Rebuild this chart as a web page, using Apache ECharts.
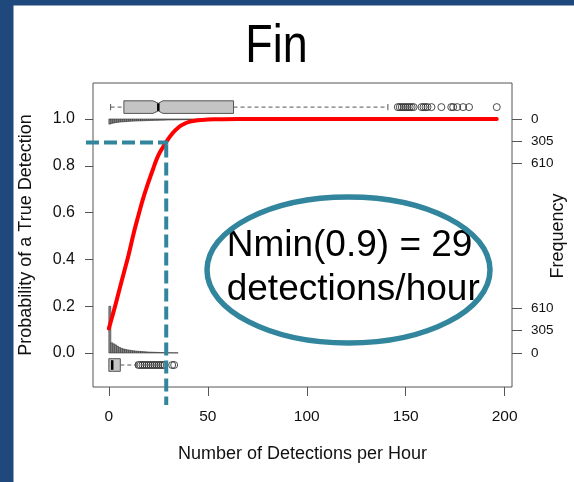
<!DOCTYPE html>
<html><head><meta charset="utf-8">
<script src="https://cdn.jsdelivr.net/npm/echarts@6/dist/echarts.min.js"></script>
<style>html,body{margin:0;padding:0;background:#fff}#c{width:574px;height:482px}</style>
</head><body><div id="c"></div>
<script>
// ---------------- data ----------------
const xTicks = [0, 50, 100, 150, 200];
const yTicks = [0, 0.2, 0.4, 0.6, 0.8, 1.0];
const freqTicks = [0, 305, 610];

// fitted probability curve
const curveX = [0, 2.5, 5, 7.5, 10, 12.5, 15, 17.5, 20, 22.5, 25, 27.5, 29, 32, 35, 38, 41, 45, 50, 55, 65, 80, 196];
const curveY = [0.105, 0.18, 0.26, 0.34, 0.42, 0.51, 0.59, 0.665, 0.73, 0.79, 0.845, 0.882, 0.902, 0.937, 0.963, 0.979, 0.989, 0.995, 0.998, 0.999, 1.0, 1.0, 1.0];

// histogram counts, bins of width 1 starting at 0
const bottomHistCounts = [640, 140, 125, 110, 90, 75, 62, 55, 48, 42, 38, 33, 30, 27, 24, 22, 20, 18, 16, 14, 12, 11, 10, 9, 8, 7, 6, 5, 5, 4, 4, 3, 3, 2, 2];
const topHistCounts = [70, 60, 55, 50, 46, 42, 40, 38, 36, 34, 32, 30, 29, 28, 27, 26, 25, 24, 23, 22, 21, 20, 19, 18, 18, 17, 16, 16, 15, 14, 14, 13, 13, 12, 12, 11, 11, 10, 10, 9, 9, 9, 8, 8, 8, 7, 7, 7, 6, 6, 6, 6, 5, 5, 5, 5, 4, 4, 4, 4];

// boxplots: [min, q1, median, q3, max], notch [lo, hi]
const topBoxStats = [0.9, 7.6, 25, 63, 141];
const topBoxNotch = [22.3, 27.3];
const topOutliers = [146, 147, 148, 149, 150, 151, 152, 153, 154, 158, 159, 160, 161, 163, 168, 173, 174, 176, 179, 182, 196];
const bottomBoxStats = [0, 0, 1.7, 5.8, 13.8];
const bottomBoxNotch = [1.7, 1.7];
const bottomOutliers = [15, 16, 17, 18, 19, 20, 21, 22, 23, 24, 25, 26, 27, 28, 32, 33];

const nminX = [29];
const nminP = [0.9];

// ---------------- layout / style ----------------
const X_MIN = -8, X_MAX = 203.7;
const Y_MIN = -0.145, Y_MAX = 1.154;
const TOP_BOX_Y = 1.051, BOTTOM_BOX_Y = -0.051;
const BOX_HALF = 6.3;
const TEAL = '#31859c';
const AX = '#555';
const FONT = "'Liberation Sans', Arial, sans-serif";

const chart = echarts.init(document.getElementById('c'), null, {renderer: 'canvas'});

function histRender(params, api) {
  const x0 = api.value(0), x1 = api.value(1), c = api.value(2);
  const p0 = api.coord([x0, 0]);
  const p1 = api.coord([x1, c]);
  return {
    type: 'rect',
    shape: {x: Math.min(p0[0], p1[0]), y: Math.min(p0[1], p1[1]),
            width: Math.abs(p1[0] - p0[0]), height: Math.abs(p1[1] - p0[1])},
    style: {fill: '#8c8c8c', stroke: '#333', lineWidth: 0.6}
  };
}

function boxRender(params, api) {
  const mn = api.value(0), q1 = api.value(1), md = api.value(2), q3 = api.value(3), mx = api.value(4);
  const n0 = api.value(5), n1 = api.value(6), yc = api.value(7);
  const c = (x) => api.coord([x, yc]);
  const cy = c(md)[1];
  const t = cy - BOX_HALF, b = cy + BOX_HALF;
  const ti = cy - BOX_HALF * 0.6, bi = cy + BOX_HALF * 0.6;
  const X = (v) => c(v)[0];
  const notched = n0 !== n1;
  const pts = [[X(q1), t], [X(n0), t], [X(md), notched ? ti : t], [X(n1), t], [X(q3), t],
               [X(q3), b], [X(n1), b], [X(md), notched ? bi : b], [X(n0), b], [X(q1), b]];
  const dash = {stroke: AX, lineWidth: 1, lineDash: [4, 3]};
  const solid = {stroke: AX, lineWidth: 1};
  const ch = [];
  if (mn < q1) {
    ch.push({type: 'line', shape: {x1: X(mn), y1: cy, x2: X(q1), y2: cy}, style: dash});
    ch.push({type: 'line', shape: {x1: X(mn), y1: cy - BOX_HALF / 2, x2: X(mn), y2: cy + BOX_HALF / 2}, style: solid});
  }
  ch.push({type: 'line', shape: {x1: X(q3), y1: cy, x2: X(mx), y2: cy}, style: dash});
  ch.push({type: 'line', shape: {x1: X(mx), y1: cy - BOX_HALF / 2, x2: X(mx), y2: cy + BOX_HALF / 2}, style: solid});
  ch.push({type: 'polygon', shape: {points: pts}, style: {fill: '#c4c4c4', stroke: '#555', lineWidth: 1}});
  const mi = notched ? BOX_HALF * 0.6 : BOX_HALF - 1.5;
  ch.push({type: 'line', shape: {x1: X(md), y1: cy - mi, x2: X(md), y2: cy + mi}, style: {stroke: '#000', lineWidth: 2.5}});
  return {type: 'group', children: ch};
}

function nminRender(params, api) {
  const p = api.coord([api.value(0), api.value(1)]);
  const left = api.coord([X_MIN, api.value(1)])[0] - 7;
  const bottom = api.coord([api.value(0), Y_MIN])[1] + 18;
  const st = {stroke: TEAL, lineWidth: 4, lineDash: [13, 5]};
  return {type: 'group', children: [
    {type: 'line', shape: {x1: left, y1: p[1], x2: p[0] + 2, y2: p[1]}, style: st},
    {type: 'line', shape: {x1: p[0], y1: p[1] + 2, x2: p[0], y2: bottom}, style: st}
  ]};
}

const option = {
  backgroundColor: '#fff',
  animation: false,
  grid: {left: 93, right: 62, top: 83, bottom: 95, show: true, borderColor: AX, borderWidth: 1,
         containLabel: false, outerBoundsMode: 'none'},
  xAxis: {
    type: 'value', min: X_MIN, max: X_MAX,
    name: 'Number of Detections per Hour', nameLocation: 'middle', nameGap: 58,
    nameTextStyle: {fontFamily: FONT, fontSize: 18, color: '#111'},
    axisLine: {show: false, onZero: false},
    axisTick: {show: true, customValues: xTicks, length: 9, lineStyle: {color: AX}},
    axisLabel: {customValues: xTicks, fontFamily: FONT, fontSize: 15.5, color: '#111', margin: 22},
    splitLine: {show: false}
  },
  yAxis: [
    {
      type: 'value', min: Y_MIN, max: Y_MAX, position: 'left',
      name: 'Probability of a True Detection', nameLocation: 'middle', nameGap: 58,
      nameTextStyle: {fontFamily: FONT, fontSize: 18, color: '#111'},
      axisLine: {show: false, onZero: false},
      axisTick: {show: true, customValues: yTicks, length: 8, lineStyle: {color: AX}},
      axisLabel: {customValues: yTicks, fontFamily: FONT, fontSize: 16, color: '#111', margin: 18,
                  formatter: (v) => v.toFixed(1)},
      splitLine: {show: false}
    },
    {
      // bottom-histogram frequency scale
      type: 'value', min: -466, max: 3699, position: 'right',
      axisLine: {show: false, onZero: false},
      axisTick: {show: true, customValues: freqTicks, length: 10, lineStyle: {color: AX}},
      axisLabel: {customValues: freqTicks, fontFamily: FONT, fontSize: 13.5, color: '#111', margin: 19},
      splitLine: {show: false}
    },
    {
      // top-histogram frequency scale (hanging down from 1.0)
      type: 'value', min: -493, max: 3671, inverse: true, position: 'right',
      axisLine: {show: false, onZero: false},
      axisTick: {show: true, customValues: freqTicks, length: 10, lineStyle: {color: AX}},
      axisLabel: {customValues: freqTicks, fontFamily: FONT, fontSize: 13.5, color: '#111', margin: 19},
      splitLine: {show: false}
    }
  ],
  series: [
    {type: 'custom', name: 'bottomHist', xAxisIndex: 0, yAxisIndex: 1, renderItem: histRender,
     data: bottomHistCounts.map((c, i) => [i, i + 1, c]), z: 2},
    {type: 'custom', name: 'topHist', xAxisIndex: 0, yAxisIndex: 2, renderItem: histRender,
     data: topHistCounts.map((c, i) => [i, i + 1, c]), z: 2},
    {type: 'custom', name: 'boxes', xAxisIndex: 0, yAxisIndex: 0, renderItem: boxRender,
     data: [[...topBoxStats, ...topBoxNotch, TOP_BOX_Y], [...bottomBoxStats, ...bottomBoxNotch, BOTTOM_BOX_Y]], z: 3},
    {type: 'scatter', name: 'outliers', xAxisIndex: 0, yAxisIndex: 0, symbol: 'circle', symbolSize: 7,
     itemStyle: {color: 'rgba(0,0,0,0)', borderColor: '#222', borderWidth: 1},
     data: topOutliers.map((x) => [x, TOP_BOX_Y]).concat(bottomOutliers.map((x) => [x, BOTTOM_BOX_Y])), z: 4},
    {type: 'line', name: 'curve', xAxisIndex: 0, yAxisIndex: 0, showSymbol: false, symbol: 'none', smooth: 0.5,
     sampling: null,
     lineStyle: {color: '#ff0000', width: 4, cap: 'round', join: 'round'}, itemStyle: {color: '#ff0000'},
     data: curveX.map((x, i) => [x, curveY[i]]), z: 5},
    {type: 'custom', name: 'nmin', xAxisIndex: 0, yAxisIndex: 0, renderItem: nminRender, clip: false,
     data: nminX.map((x, i) => [x, nminP[i]]), z: 6}
  ],
  graphic: [
    {type: 'rect', shape: {x: 0, y: 0, width: 13.5, height: 482}, style: {fill: '#1f497d'}, z: 100},
    {type: 'rect', shape: {x: 0, y: 0, width: 574, height: 5.5}, style: {fill: '#1f497d'}, z: 100},
    {type: 'text', x: 276.5, y: 47, scaleX: 0.83, z: 100,
     style: {text: 'Fin', font: "54px 'Liberation Sans Narrow', 'Liberation Sans', Arial, sans-serif",
             fill: '#000', align: 'center', textAlign: 'center', verticalAlign: 'middle', textVerticalAlign: 'middle'}},
    {type: 'text', x: 226.7, y: 246, z: 100,
     style: {text: 'Nmin(0.9) = 29', font: "37px 'Liberation Sans', Arial, sans-serif",
             fill: '#000', align: 'left', textAlign: 'left', verticalAlign: 'middle', textVerticalAlign: 'middle'}},
    {type: 'text', x: 226.7, y: 290, z: 100,
     style: {text: 'detections/hour', font: "37px 'Liberation Sans', Arial, sans-serif",
             fill: '#000', align: 'left', textAlign: 'left', verticalAlign: 'middle', textVerticalAlign: 'middle'}},
    {type: 'ellipse', shape: {cx: 348.5, cy: 270, rx: 141.5, ry: 73}, z: 101,
     style: {fill: 'none', stroke: TEAL, lineWidth: 5.5}},
    {type: 'text', x: 558, y: 236, rotation: Math.PI / 2, z: 100,
     style: {text: 'Frequency', font: "18px 'Liberation Sans', Arial, sans-serif",
             fill: '#111', align: 'center', textAlign: 'center', verticalAlign: 'middle', textVerticalAlign: 'middle'}}
  ]
};
chart.setOption(option);
</script>
</body></html>
